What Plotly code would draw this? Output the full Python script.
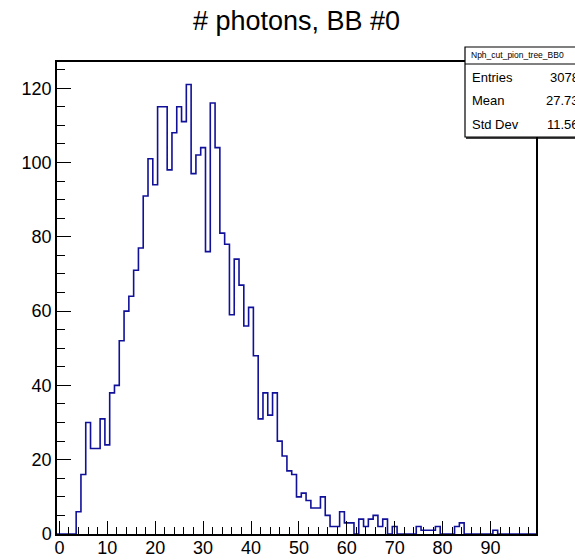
import plotly.graph_objects as go

# ---- data (1 unit bins, -0.5 .. 99.5) ----
bin_low = -0.5
bin_width = 1.0
counts = [0, 0, 0, 0, 6, 16, 30, 23, 23, 31,
          24, 38, 40, 52, 60, 64, 71, 77, 91, 101,
          94, 115, 115, 98, 108, 115, 111, 121, 97, 102,
          104, 76, 116, 104, 81, 78, 59, 74, 67, 56,
          61, 48, 31, 38, 32, 38, 25, 21, 17, 16,
          10, 11, 9, 7, 7, 10, 5, 2, 2, 6,
          3, 3, 0, 4, 2, 4, 5, 2, 4, 0,
          2, 0, 0, 0, 0, 2, 1, 1, 1, 2,
          0, 0, 0, 2, 3, 0, 0, 0, 0, 0,
          0, 1, 0, 0, 0, 0, 0, 0, 0, 0]
x_tick_vals = [0, 10, 20, 30, 40, 50, 60, 70, 80, 90]
y_tick_vals = [0, 20, 40, 60, 80, 100, 120]
title_text = "# photons, BB #0"
stats_name = "Nph_cut_pion_tree_BB0"
stats_labels = ["Entries", "Mean", "Std Dev"]
stats_values = ["3078", "27.73", "11.56"]

edges = [bin_low + i * bin_width for i in range(len(counts) + 1)]
x_range = [edges[0], edges[-1]]
y_max = max(counts) * 1.05

W, H = 575, 560
L, R, T, B = 57, 536, 62, 534
FONT = "Liberation Sans, Arial, Helvetica, sans-serif"

fig = go.Figure()
fig.add_trace(go.Scatter(
    x=edges, y=counts + [counts[-1]],
    mode="lines", line=dict(shape="hv", color="#101099", width=1.6),
    hoverinfo="skip", showlegend=False,
))

def px_x(p):
    return (p - L) / (R - L)

def px_y(p):
    return (B - p) / (B - T)

shapes = []
annotations = []
# stats box
bx0, bx1, by0, by1 = 465, 600, 47, 137
shapes.append(dict(type="rect", xref="paper", yref="paper",
                   x0=px_x(bx0), x1=px_x(bx1), y0=px_y(by1), y1=px_y(by0),
                   line=dict(color="black", width=1.2), fillcolor="white", layer="above"))
shapes.append(dict(type="line", xref="paper", yref="paper",
                   x0=px_x(bx0 + 1), x1=px_x(bx1), y0=px_y(by1 + 1), y1=px_y(by1 + 1),
                   line=dict(color="black", width=1.5), layer="above"))
shapes.append(dict(type="line", xref="paper", yref="paper",
                   x0=px_x(bx0), x1=px_x(bx1), y0=px_y(64), y1=px_y(64),
                   line=dict(color="black", width=1), layer="above"))
annotations.append(dict(xref="paper", yref="paper", x=px_x(469), y=px_y(55.5),
                        xanchor="left", yanchor="middle", showarrow=False,
                        text=stats_name, font=dict(family=FONT, size=8.5, color="black")))
row_y = [77, 100, 124]
for lab, val, ry in zip(stats_labels, stats_values, row_y):
    annotations.append(dict(xref="paper", yref="paper", x=px_x(470), y=px_y(ry),
                            xanchor="left", yanchor="middle", showarrow=False,
                            text=lab, font=dict(family=FONT, size=13, color="black")))
    annotations.append(dict(xref="paper", yref="paper", x=px_x(581), y=px_y(ry),
                            xanchor="right", yanchor="middle", showarrow=False,
                            text=val, font=dict(family=FONT, size=13, color="black")))

fig.update_layout(
    width=W, height=H,
    margin=dict(l=L, r=W - R, t=T, b=H - B, pad=0, autoexpand=False),
    paper_bgcolor="white", plot_bgcolor="white",
    title=dict(text=title_text, x=0.5, xref="paper", xanchor="center",
               y=1 - 21 / H, yref="container", yanchor="middle",
               font=dict(family=FONT, size=27, color="black")),
    shapes=shapes, annotations=annotations,
    font=dict(family=FONT, color="black"),
)
fig.update_xaxes(
    range=x_range, showgrid=False, zeroline=False, automargin=False,
    showline=True, mirror=True, linecolor="black", linewidth=1.5,
    ticks="inside", ticklen=13, tickwidth=1.3, tickcolor="black",
    tickvals=x_tick_vals, ticktext=[str(v) for v in x_tick_vals],
    tickfont=dict(family=FONT, size=18, color="black"),
    ticklabelstandoff=-3,
    minor=dict(ticks="inside", ticklen=7, tickwidth=1.3, tickcolor="black",
               dtick=2, tick0=0, showgrid=False),
)
fig.update_yaxes(
    range=[0, y_max], showgrid=False, zeroline=False, automargin=False,
    showline=True, mirror=True, linecolor="black", linewidth=1.5,
    ticks="inside", ticklen=14, tickwidth=1.3, tickcolor="black",
    tickvals=y_tick_vals, ticktext=[str(v) for v in y_tick_vals],
    tickfont=dict(family=FONT, size=18, color="black"),
    minor=dict(ticks="inside", ticklen=8, tickwidth=1.3, tickcolor="black",
               dtick=5, tick0=0, showgrid=False),
)

fig.write_html("out.html")
